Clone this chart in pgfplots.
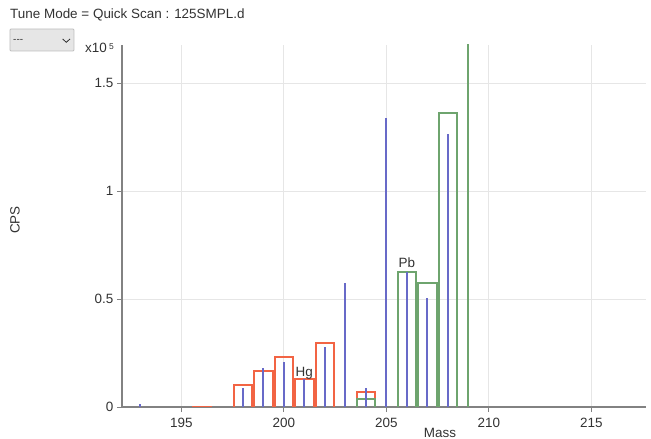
\documentclass[border=0pt]{standalone}
\usepackage{pgfplots}
\pgfplotsset{compat=1.18}
\usepackage{fontspec}
\setmainfont{Liberation Sans}
\definecolor{hgred}{RGB}{242,100,68}
\definecolor{pbgreen}{RGB}{110,164,110}
\definecolor{mblue}{RGB}{104,106,200}
\definecolor{gridgray}{RGB}{230,230,230}
\definecolor{axisgray}{RGB}{130,130,130}
\definecolor{txt}{RGB}{50,50,50}
\begin{document}
\fontsize{13.5}{16}\selectfont
\begin{tikzpicture}
\begin{axis}[
  scale only axis, width=524bp, height=362bp,
  xmin=192.107, xmax=217.67, ymin=0, ymax=1.678,
  axis x line*=bottom, axis y line*=left,
  axis line style={color=axisgray, line width=1.5bp},
  xtick={195,200,205,210,215}, xticklabels={195,200,205,210,215},
  ytick={0,0.5,1,1.5}, yticklabels={0,0.5,1,1.5},
  grid=major, major grid style={color=gridgray, line width=1.2bp},
  tick align=outside, major tick length=5bp,
  tick style={color=axisgray, line width=1bp},
  ticklabel style={color=txt, font=\fontsize{13.5}{16}\selectfont},
  xticklabel style={yshift=-1bp},
  yticklabel style={xshift=1bp},
  /pgf/number format/assume math mode=true,
  unbounded coords=jump,
  clip=true,
]
% Hg isotope pattern (red boxes, width 0.9 centred on each mass)
\addplot[draw=hgred, line width=2bp, mark=none, line join=miter]
  coordinates {
  (195.55,0) (195.55,0.0015) (196.45,0.0015) (196.45,0) (nan,nan)
  (197.55,0) (197.55,0.0997) (198.45,0.0997) (198.45,0) (nan,nan)
  (198.55,0) (198.55,0.1687) (199.45,0.1687) (199.45,0) (nan,nan)
  (199.55,0) (199.55,0.231) (200.45,0.231) (200.45,0) (nan,nan)
  (200.55,0) (200.55,0.1318) (201.45,0.1318) (201.45,0) (nan,nan)
  (201.55,0) (201.55,0.2986) (202.45,0.2986) (202.45,0) (nan,nan)
  (203.55,0) (203.55,0.0687) (204.45,0.0687) (204.45,0)
  };
% Pb isotope pattern (green boxes)
\addplot[draw=pbgreen, line width=2bp, mark=none, line join=miter]
  coordinates {
  (203.55,0) (203.55,0.037) (204.45,0.037) (204.45,0) (nan,nan)
  (205.55,0) (205.55,0.627) (206.45,0.627) (206.45,0) (nan,nan)
  (206.55,0) (206.55,0.575) (207.45,0.575) (207.45,0) (nan,nan)
  (207.55,0) (207.55,1.364) (208.45,1.364) (208.45,0)
  };
\addplot[ycomb, draw=pbgreen, line width=2bp, mark=none] coordinates {(209,3)};
% measured spectrum (blue lines)
\addplot[ycomb, draw=mblue, line width=2bp, mark=none]
  coordinates {(193,0.012) (198,0.09) (199,0.18) (200,0.208) (201,0.128) (202,0.278) (203,0.575) (204,0.09) (205,1.338) (206,0.626) (207,0.506) (208,1.264)};
\node[anchor=base, text=txt] at (axis cs:201,0.142) {Hg};
\node[anchor=base, text=txt] at (axis cs:206,0.645) {Pb};
\end{axis}
% title and decorations (picture pixel (x,y) -> (x-122, 407-y))
\node[anchor=base west, text=txt, inner sep=0pt] at (-112bp,388bp) {Tune Mode = Quick Scan : 125SMPL.d};
\draw[fill={rgb,255:red,230;green,230;blue,230}, draw={rgb,255:red,190;green,190;blue,190}, rounded corners=1bp, line width=0.8bp]
  (-112bp,378bp) rectangle (-48bp,356bp);
\node[anchor=west, inner sep=0pt, text=txt] at (-109bp,366bp) {\fontsize{10}{12}\selectfont -{}-{}-};
\draw[color=txt, line width=0.8bp] (-59.3bp,368bp) -- (-55.7bp,364.7bp) -- (-52bp,368bp);
\node[anchor=base west, text=txt, inner sep=0pt] at (-37bp,354bp) {x10\,\raisebox{3bp}{\fontsize{8.5}{9}\selectfont 5}};
\node[rotate=90, text=txt] at (-107bp,187bp) {CPS};
\node[text=txt] at (318bp,-26bp) {Mass};
\pgfresetboundingbox
\useasboundingbox (-122bp,-32bp) rectangle (529bp,407bp);
\end{tikzpicture}
\end{document}
